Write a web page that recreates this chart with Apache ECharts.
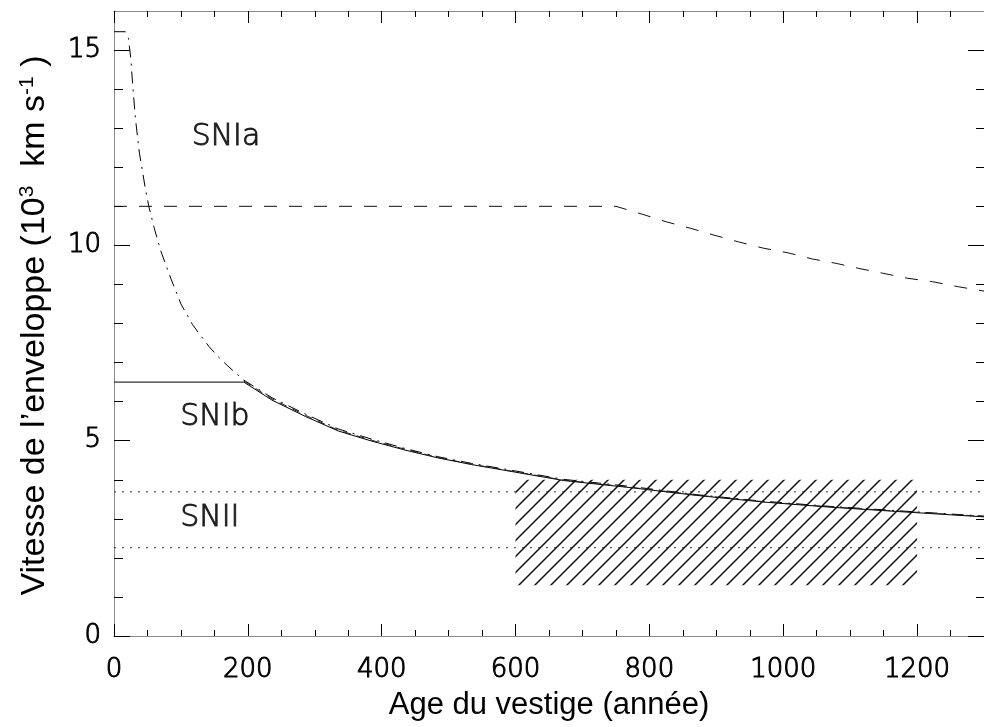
<!DOCTYPE html>
<html>
<head>
<meta charset="utf-8">
<script src="https://cdn.jsdelivr.net/npm/echarts@6/dist/echarts.min.js"></script>
<style>
html,body{margin:0;padding:0;background:#fff;}
#chart{width:984px;height:727px;}
</style>
</head>
<body>
<div id="chart"></div>
<script>
// ---- data ----
const snIaAge = [0, 750, 789, 826, 861, 895, 933, 970, 1007, 1044, 1079, 1113, 1148, 1185, 1223, 1262, 1300];
const snIaVel = [11.0, 11.0, 10.80, 10.60, 10.44, 10.27, 10.09, 9.93, 9.81, 9.65, 9.54, 9.41, 9.29, 9.16, 9.07, 8.94, 8.83];

const ejectaAge = [0, 17, 21.6, 25, 28, 32, 38, 46.4, 52, 60, 70, 85, 100, 117, 130, 142, 155, 169, 180, 194, 236, 286, 335, 385, 435, 484, 534, 598, 672, 771, 870, 970, 1069, 1168, 1300];
const ejectaVel = [15.47, 15.47, 15.3, 14.8, 14.1, 13.25, 12.36, 11.5, 11.0, 10.45, 9.85, 9.15, 8.5, 7.98, 7.68, 7.41, 7.16, 6.93, 6.76, 6.55, 6.1, 5.68, 5.3, 5.04, 4.8, 4.59, 4.42, 4.23, 4.01, 3.83, 3.62, 3.45, 3.32, 3.21, 3.07];

const snIbAge = [0, 194, 236, 286, 335, 385, 435, 484, 534, 598, 672, 771, 870, 970, 1069, 1168, 1300];
const snIbVel = [6.5, 6.5, 6.04, 5.62, 5.25, 4.99, 4.76, 4.56, 4.39, 4.2, 3.98, 3.8, 3.6, 3.43, 3.3, 3.19, 3.05];

const dashLowAge = [194, 236, 286, 335, 385, 435, 484, 534, 598, 672, 771, 870, 970, 1069, 1168, 1300];
const dashLowVel = [6.53, 6.07, 5.65, 5.27, 5.01, 4.78, 4.57, 4.40, 4.21, 3.99, 3.81, 3.61, 3.44, 3.31, 3.20, 3.06];

const snIILimits = [3.69, 2.26];
const limitAge = [0, 1300];

const hatchAge = [600, 1200];
const hatchVel = [1.3, 4.0];

const labelNames = ['SNIa', 'SNIb', 'SNII'];
const labelAge = [116, 99, 99];
const labelVel = [12.77, 5.6, 3.02];

const xMajor = [0, 200, 400, 600, 800, 1000, 1200];
const xMinor = [50, 100, 150, 250, 300, 350, 450, 500, 550, 650, 700, 750, 850, 900, 950, 1050, 1100, 1150, 1250];
const yMajor = [0, 5, 10, 15];
const yMinor = [1, 2, 3, 4, 6, 7, 8, 9, 11, 12, 13, 14];

const xRange = [0, 1300];
const yRange = [0, 16];

// ---- helpers ----
const pairs = (xs, ys) => xs.map((x, i) => [x, ys[i]]);
const FONT = "'Liberation Sans', Arial, Helvetica, sans-serif";
const TICKFONT = "'DejaVu Sans', 'Liberation Sans', sans-serif";
const thinText = { fontFamily: TICKFONT, fontWeight: 200, color: '#000', textBorderColor: '#000', textBorderWidth: 1 };

function hatchCanvas() {
  const c = document.createElement('canvas');
  c.width = 16; c.height = 16;
  const g = c.getContext('2d');
  g.strokeStyle = '#111';
  g.lineWidth = 1.5;
  g.beginPath();
  g.moveTo(-2, 18); g.lineTo(18, -2);
  g.moveTo(-2, 2); g.lineTo(2, -2);
  g.moveTo(14, 18); g.lineTo(18, 14);
  g.stroke();
  return c;
}

const frame = { show: true, onZero: false, lineStyle: { color: '#8a8a8a', width: 1 } };
const noLine = { show: false, onZero: false };
const tickStyle = { color: '#000', width: 1 };

function xAx(pos, values, len, extra) {
  return Object.assign({
    type: 'value', position: pos, min: xRange[0], max: xRange[1], interval: 50,
    axisLine: noLine, splitLine: { show: false },
    axisTick: { show: true, inside: true, length: len, lineStyle: tickStyle, customValues: values },
    axisLabel: { show: false }
  }, extra || {});
}
function yAx(pos, values, len, extra) {
  return Object.assign({
    type: 'value', position: pos, min: yRange[0], max: yRange[1], interval: 1,
    axisLine: noLine, splitLine: { show: false },
    axisTick: { show: true, inside: true, length: len, lineStyle: tickStyle, customValues: values },
    axisLabel: { show: false }
  }, extra || {});
}

const chart = echarts.init(document.getElementById('chart'), null, { renderer: 'canvas' });

chart.setOption({
  animation: false,
  backgroundColor: '#fff',
  grid: { left: 114, top: 11, right: -7.5, bottom: 91, containLabel: false },
  xAxis: [
    xAx('bottom', xMajor, 12, {
      axisLine: frame,
      axisLabel: Object.assign({ show: true, customValues: xMajor, formatter: v => String(v), fontSize: 26, margin: 21 }, thinText),
      name: 'Age du vestige (année)', nameLocation: 'middle', nameGap: 54,
      nameTextStyle: { fontFamily: FONT, fontSize: 31, color: '#000' }
    }),
    xAx('bottom', xMinor, 6),
    xAx('top', xMajor, 12, { axisLine: frame }),
    xAx('top', xMinor, 6)
  ],
  yAxis: [
    yAx('left', yMajor, 16, {
      axisLine: frame,
      axisLabel: Object.assign({ show: true, customValues: yMajor, formatter: v => String(v), fontSize: 26, margin: 13 }, thinText),
      name: "{a|Vitesse de l’enveloppe (10}{s|3}{a|  km s}{s|-1}{a| )}",
      nameLocation: 'middle', nameGap: 62,
      nameTextStyle: {
        fontFamily: FONT, fontSize: 34, color: '#000', padding: [0, 4, 0, 0],
        rich: {
          a: { fontFamily: FONT, fontSize: 34, color: '#000', lineHeight: 35 },
          s: { fontFamily: FONT, fontSize: 21, color: '#000', lineHeight: 21, verticalAlign: 'top' }
        }
      }
    }),
    yAx('left', yMinor, 9),
    yAx('right', yMajor, 16, { axisLine: frame }),
    yAx('right', yMinor, 8)
  ],
  series: [
    {
      name: 'SNIa', type: 'line', data: pairs(snIaAge, snIaVel), showSymbol: false, symbol: 'none',
      lineStyle: { color: '#111', width: 1, type: [13, 12] }, z: 5
    },
    {
      name: 'ejecta', type: 'line', data: pairs(ejectaAge, ejectaVel), showSymbol: false, symbol: 'none',
      lineStyle: { color: '#000', width: 1, type: [12, 6, 2, 6] }, z: 5
    },
    {
      name: 'SNIb', type: 'line', data: pairs(snIbAge, snIbVel), showSymbol: false, symbol: 'none',
      lineStyle: { color: '#000', width: 1, type: 'solid' }, z: 5
    },
    {
      name: 'dashLow', type: 'line', data: pairs(dashLowAge, dashLowVel), showSymbol: false, symbol: 'none',
      lineStyle: { color: '#222', width: 1, type: [8, 6] }, z: 5
    },
    {
      name: 'SNII upper', type: 'line', data: pairs(limitAge, [snIILimits[0], snIILimits[0]]),
      showSymbol: false, symbol: 'none',
      lineStyle: { color: '#333', width: 1, type: [2, 6] }, z: 4,
      markArea: {
        silent: true,
        itemStyle: { color: { image: hatchCanvas(), repeat: 'repeat' }, borderWidth: 0 },
        data: [[{ xAxis: hatchAge[0], yAxis: hatchVel[0] }, { xAxis: hatchAge[1], yAxis: hatchVel[1] }]]
      }
    },
    {
      name: 'SNII lower', type: 'line', data: pairs(limitAge, [snIILimits[1], snIILimits[1]]),
      showSymbol: false, symbol: 'none',
      lineStyle: { color: '#333', width: 1, type: [2, 6] }, z: 4
    },
    {
      name: 'labels', type: 'scatter', symbolSize: 0.01,
      data: labelNames.map((n, i) => ({ name: n, value: [labelAge[i], labelVel[i]] })),
      label: Object.assign({
        show: true, position: 'right', distance: 0, formatter: p => p.name, fontSize: 30
      }, thinText),
      itemStyle: { color: 'transparent' }, silent: true, z: 6
    }
  ]
});
</script>
</body>
</html>
